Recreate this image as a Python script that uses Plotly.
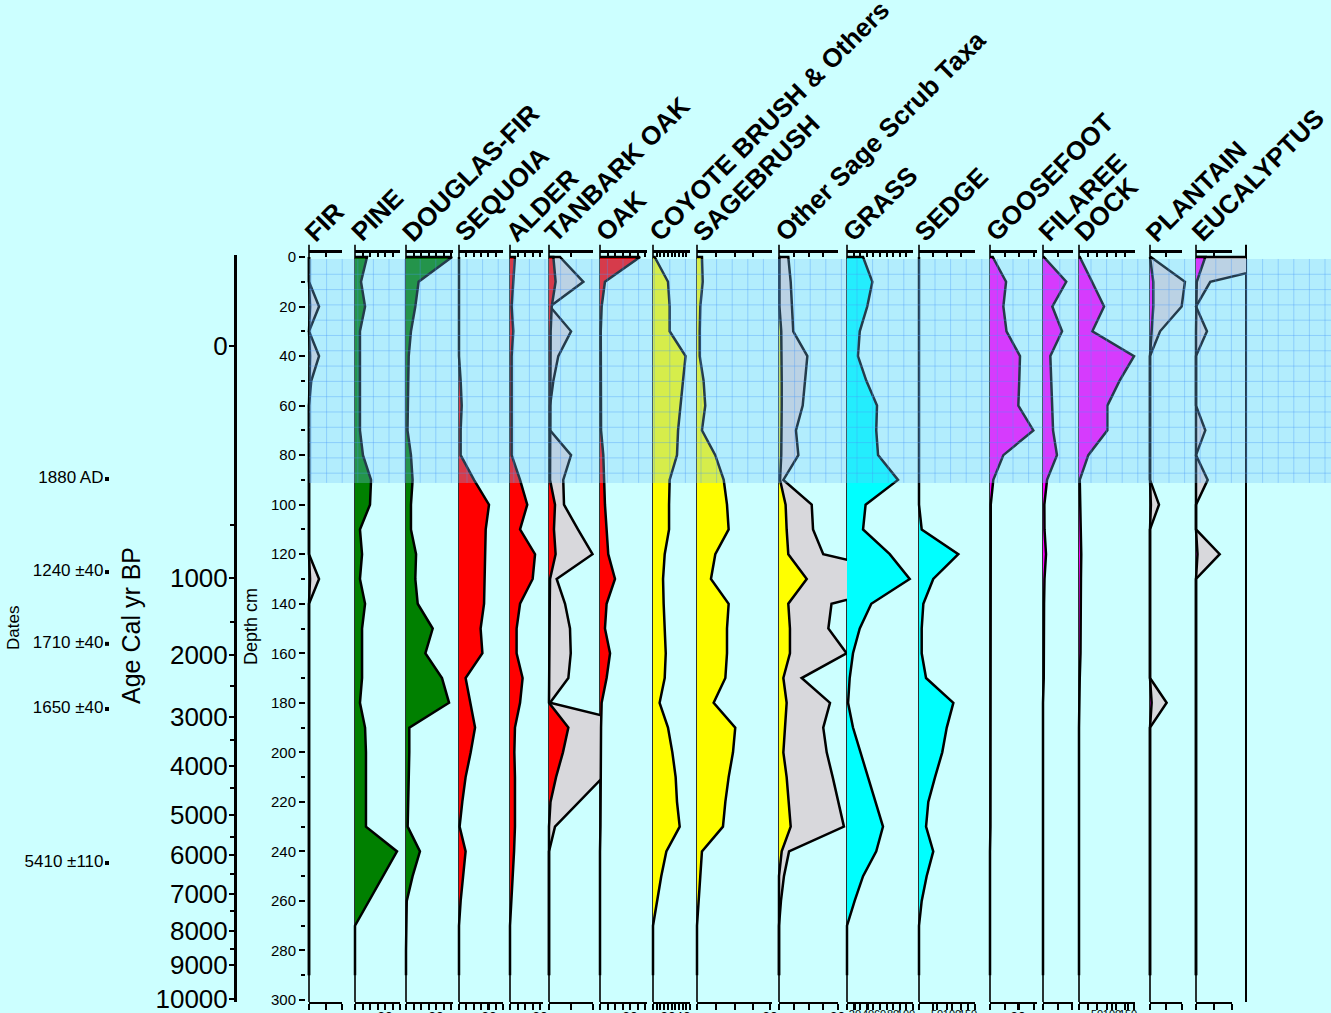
import plotly.graph_objects as go

# ---------------- data ----------------
depths = list(range(0, 300, 10))  # sample depths, cm

taxa = ["FIR", "PINE", "DOUGLAS-FIR", "SEQUOIA", "ALDER", "TANBARK OAK", "OAK",
        "COYOTE BRUSH & Others", "SAGEBRUSH", "Other Sage Scrub Taxa", "GRASS",
        "SEDGE", "GOOSEFOOT", "FILAREE", "DOCK", "PLANTAIN", "EUCALYPTUS"]

fir = [0, 0, 0.7, 0, 0.7, 0.2, 0, 0, 0, 0, 0, 0, 0, 0.7, 0, 0, 0, 0, 0, 0, 0, 0, 0, 0, 0, 0, 0, 0, 0, 0]
fir_x = [0, 0, 6.7, 0, 6.7, 1.5, 0, 0, 0, 0, 0, 0, 0, 6.7, 0, 0, 0, 0, 0, 0, 0, 0, 0, 0, 0, 0, 0, 0, 0, 0]
pine = [8, 4, 6.7, 3.3, 3.3, 3.3, 3.3, 3.3, 5.3, 10.7, 10, 3.3, 4.7, 3.3, 6.7, 4.7, 4.7, 4.7, 3.3, 6.7,
        7.3, 7.3, 7.3, 7.3, 28, 18.7, 9.3, 0, 0, 0]
douglas = [30.7, 8.4, 6.2, 3.3, 1.8, 1.5, 1.5, 1, 3.3, 4.4, 3.3, 3.3, 6.7, 6.2, 7.8, 17.8, 12.9, 24, 28.7, 2.2,
           2.2, 1.8, 1.8, 1.1, 9.3, 4.4, 0.5, 0, 0, 0]
sequoia = [0, 0, 0, 0, 0, 1.1, 1.8, 1.1, 1.1, 10, 20, 17.8, 17.3, 17.3, 16.7, 14.4, 15.6, 4.4, 7.8, 10.7,
           7.8, 4.4, 2.2, 0.4, 4.4, 2.7, 1.1, 0, 0, 0]
alder = [3.3, 2.2, 1.1, 2.2, 1.1, 1.1, 1.1, 1.1, 1.1, 6.7, 11.5, 6.7, 16.7, 15.1, 6.7, 4.4, 4.4, 8.4, 6.7, 3.3,
         2.9, 3.3, 3.3, 3.3, 2.7, 1.8, 0.9, 0, 0, 0]
tanbark = [2.9, 4.4, 1.8, 1.1, 1.1, 0.7, 0.7, 0.7, 0.7, 0.7, 4, 3.3, 4.4, 0.7, 0.5, 0.5, 0.5, 0.5, 0, 12.9,
           9.3, 4.7, 1, 0, 0, 0, 0, 0, 0, 0]
tanbark_x = [7.3, 22.9, 0.7, 14.7, 6.2, 2.9, 0.7, 0.7, 14.7, 9.5, 10, 19.3, 29, 5.1, 10.7, 14, 14.5, 12.9, 0.7, 68,
             80, 36, 20, 4, 0, 0, 0, 0, 0, 0]
oak = [26.7, 3.3, 1.1, 0.5, 0.5, 0.5, 0.5, 0.7, 2.2, 2.7, 3.3, 4.4, 5.5, 10, 4.4, 3.3, 6.7, 4.4, 1.1, 0.7,
       0.7, 0.7, 0.5, 0.3, 0, 0, 0, 0, 0, 0]
coyote = [1.1, 10, 11.1, 11.1, 21.7, 20, 18.2, 16.7, 16, 11.1, 10.7, 10.7, 7.8, 6.7, 7.1, 7.8, 8.5, 7.8, 4.4, 10,
          12.9, 15.1, 16, 17.8, 8.9, 5.5, 2.9, 0, 0, 0]
sagebrush = [3.3, 3.8, 2.2, 1.8, 1.8, 4.4, 5.5, 3.3, 12.2, 17.8, 20, 21.1, 12.2, 9.3, 21.1, 20, 20, 18.9, 11.1, 25.5,
             24, 21.1, 18.9, 17.3, 3.3, 2.2, 1.1, 0, 0, 0]
other_sage = [0.3, 0.3, 0.3, 1.5, 1.8, 1.8, 1.8, 1.8, 1.5, 0.7, 4.4, 5.1, 6.2, 18.5, 6.2, 7.3, 7.3, 2.9, 5.1, 4,
              2.9, 5.1, 6.2, 7.8, 1.8, 0, 0, 0, 0, 0]
other_sage_x = [6.2, 7.8, 8.9, 9.5, 18.9, 17.3, 15.8, 11.3, 12.9, 2.9, 21.8, 22.7, 29.5, 100, 35, 32.9, 45, 15.1, 34, 29.5,
                31.8, 35.8, 39.5, 43.3, 6.7, 3.3, 1.3, 0, 0, 0]
grass = [10.7, 16.9, 13.5, 8.5, 7.3, 12.9, 20, 19.5, 20.7, 34, 12.4, 10.7, 28.5, 41.8, 16.2, 8.5, 4, 1.8, 0.7, 4,
         9, 14, 19.5, 24, 19.5, 10.7, 5.1, 0, 0, 0]
sedge = [0, 0, 0, 0, 0, 0, 0, 0, 0, 0, 0, 1.8, 26.2, 9.5, 2.9, 1.8, 1.8, 4.7, 22.9, 18.5,
         15.5, 10.7, 6.2, 4.7, 9.5, 5.1, 1.8, 0, 0, 0]
goosefoot = [1.8, 10.7, 8.9, 11, 20, 19.5, 18.9, 28.9, 8.9, 2.2, 0.5, 0.5, 0.5, 0.5, 0.5, 0.5, 0.5, 0.5, 0.7, 0.7,
             0.7, 0.5, 0.5, 0.3, 0, 0, 0, 0, 0, 0]
filaree = [0.5, 15.5, 6.2, 12.7, 4.9, 5.5, 6.2, 6.7, 9.3, 2.7, 0.9, 1, 2, 1, 0.7, 0.7, 0.7, 0.5, 0, 0,
           0, 0, 0, 0, 0, 0, 0, 0, 0, 0]
dock = [0.5, 8.7, 16.7, 8.9, 36.7, 27, 18.9, 18.9, 6.2, 0.5, 1, 1.3, 1.5, 1.3, 1.3, 1, 1, 0.5, 0, 0,
        0, 0, 0, 0, 0, 0, 0, 0, 0, 0]
plantain = [0, 2.2, 2.2, 1.1, 0, 0, 0, 0, 0, 0, 0.6, 0, 0, 0, 0, 0, 0, 0, 1.1, 0,
            0, 0, 0, 0, 0, 0, 0, 0, 0, 0]
plantain_x = [0.5, 23.3, 21.1, 6.7, 0, 0, 0, 0, 0, 0, 6, 0, 0, 0, 0, 0, 0, 0, 11.1, 0,
              0, 0, 0, 0, 0, 0, 0, 0, 0, 0]
eucalyptus = [6.2, 0.5, 0, 0, 0, 0, 0, 0, 0, 0, 0, 0, 1, 0, 0, 0, 0, 0, 0, 0,
              0, 0, 0, 0, 0, 0, 0, 0, 0, 0]
eucalyptus_x = [79, 9.5, 0, 7.3, 0, 0, 0, 6.2, 0, 7.8, 0, 0, 15.8, 0, 0, 0, 0, 0, 0, 0,
                0, 0, 0, 0, 0, 0, 0, 0, 0, 0]

series = [fir, pine, douglas, sequoia, alder, tanbark, oak, coyote, sagebrush, other_sage,
          grass, sedge, goosefoot, filaree, dock, plantain, eucalyptus]
exaggerated = {0: fir_x, 5: tanbark_x, 9: other_sage_x, 15: plantain_x, 16: eucalyptus_x}

# bottom-axis tick labels (value %, text) as printed
bottom_labels = {1: ([20], ["20"]), 2: ([20], ["20"]), 3: ([20], ["20"]), 4: ([20], ["20"]),
                 6: ([20], ["20"]), 7: ([10, 20], ["20", "40"]), 8: ([48.7], ["20"]), 9: ([39], ["20"]),
                 10: ([5.3, 14, 22, 30.7, 39.3], ["20", "40", "60", "80", "100"]),
                 11: ([12, 22, 32.7], ["50", "100", "150"]), 12: ([18.7], ["20"]),
                 14: ([12, 22, 32.7], ["50", "100", "150"])}

# Age model: age labels and the depth (cm) at which they fall
age_labels = ["0", "1000", "2000", "3000", "4000", "5000", "6000", "7000", "8000", "9000", "10000"]
age_depths = [35.9, 129.6, 160.7, 185.7, 205.5, 225.3, 241.4, 257.2, 272.1, 285.8, 299.6]
age_minor_depths = [108.2, 147.4, 173.2, 195.0, 214.4, 234.2, 249.1, 264.0, 279.4]

date_labels = ["1880 AD", "1240 \u00b140", "1710 \u00b140", "1650 \u00b140", "5410 \u00b1110"]
date_depths = [89.6, 127.2, 156.2, 182.5, 244.7]

zone_depths = [0.8, 91.2]

# ---------------- layout constants ----------------
W, H = 1331, 1013
PXCM = 2.4767
PXPCT = 1.5
lefts = [309, 355, 406, 459, 510, 549, 600, 653, 697, 779, 847, 919, 990, 1043, 1079, 1150, 1196]
rights = lefts[1:] + [1246]
axis_w = [33, 45, 47, 44, 33, 44, 47, 37, 75, 59, 66, 56, 47, 30, 56, 32, 36]
tick_px = [16.5, 7.5, 7.5, 7.3, 7.6, 22, 7.5, 3.7, 18.8, 14.8, 6.6, 14, 14.5, 14.7, 9.2, 16, 18]
colors = ["#000000", "#008000", "#008000", "#FF0000", "#FF0000", "#FF0000", "#FF0000",
          "#FFFF00", "#FFFF00", "#FFFF00", "#00FFFF", "#00FFFF", "#FF00FF", "#FF00FF",
          "#FF00FF", "#FF00FF", "#FF00FF"]
GREY = "#D8D8DC"
FONT = "Arial, Liberation Sans, sans-serif"

y_top_px, y_bot_px = 253, 1002
ydom = [1 - y_bot_px / H, 1 - y_top_px / H]
yrange = [(y_bot_px - 257) / PXCM, (y_top_px - 257) / PXCM]

fig = go.Figure()
layout = {}
n = len(taxa)


def axname(i):
    return "x" if i == 1 else f"x{i}"


def layname(i):
    return "xaxis" if i == 1 else f"xaxis{i}"


def poly(vals):
    xs = [0] + list(vals) + [0]
    ys = [depths[0]] + list(depths) + [depths[-1]]
    return xs, ys


for k in range(n):
    i = k + 1
    L, R = lefts[k], rights[k]
    layout[layname(i)] = dict(domain=[(L - 3) / W, R / W], range=[-3 / PXPCT, (R - L) / PXPCT],
                              anchor="y", visible=False, fixedrange=True, automargin=False)
    if k in exaggerated:
        xs, ys = poly(exaggerated[k])
        fig.add_trace(go.Scatter(x=xs, y=ys, xaxis=axname(i), yaxis="y", mode="lines",
                                 fill="toself", fillcolor=GREY,
                                 line=dict(color="black", width=2.5), hoverinfo="skip"))
    xs, ys = poly(series[k])
    fig.add_trace(go.Scatter(x=xs, y=ys, xaxis=axname(i), yaxis="y", mode="lines",
                             fill="toself", fillcolor=colors[k],
                             line=dict(color="black", width=2.5), hoverinfo="skip"))

# display axes: top (ticks inside) and bottom (ticks outside)
for k in range(n):
    L = lefts[k]
    rng = [0, axis_w[k] / PXPCT]
    dt = tick_px[k] / PXPCT
    it = n + 1 + k
    ib = 2 * n + 1 + k
    layout[layname(it)] = dict(domain=[L / W, (L + axis_w[k]) / W], range=rng, anchor="y", side="top",
                               showline=True, linecolor="black", linewidth=2.5, ticks="inside",
                               ticklen=4, tickwidth=2, tickcolor="black", tickmode="linear",
                               tick0=0, dtick=dt, showticklabels=False, showgrid=False,
                               zeroline=False, fixedrange=True, automargin=False)
    bl = bottom_labels.get(k, ([], []))
    layout[layname(ib)] = dict(domain=[L / W, (L + axis_w[k]) / W], range=rng, anchor="y", side="bottom",
                               showline=True, linecolor="black", linewidth=2, ticks="outside",
                               ticklen=6, tickwidth=2, tickcolor="black", tickmode="array",
                               tickvals=bl[0], ticktext=bl[1], showticklabels=True, tickangle=0,
                               ticklabelstandoff=-5,
                               tickfont=dict(family=FONT, size=11 if len(bl[0]) > 2 else 14,
                                             color="black"),
                               minor=dict(ticks="outside", ticklen=6, tickwidth=2, tickcolor="black",
                                          tickmode="linear", tick0=0, dtick=dt, showgrid=False),
                               showgrid=False, zeroline=False, fixedrange=True, automargin=False)
    for j in (it, ib):
        fig.add_trace(go.Scatter(x=[None], y=[None], xaxis=axname(j), yaxis="y",
                                 mode="markers", hoverinfo="skip"))

# depth axis
layout["yaxis"] = dict(domain=ydom, range=yrange, anchor="x", side="left", showline=False,
                       ticks="outside", ticklen=6, tickwidth=2, tickcolor="black",
                       tickmode="array", tickvals=list(range(0, 301, 20)),
                       ticktext=[str(v) for v in range(0, 301, 20)],
                       tickfont=dict(family=FONT, size=15, color="black"),
                       minor=dict(ticks="outside", ticklen=4, tickwidth=2, tickcolor="black",
                                  tickmode="linear", tick0=0, dtick=10, showgrid=False),
                       showgrid=False, zeroline=False, fixedrange=True, automargin=False)

# age axis + dates
age_top_px, age_bot_px = 255, 1001.5
layout["yaxis2"] = dict(domain=[1 - age_bot_px / H, 1 - age_top_px / H],
                        range=[(age_bot_px - 257) / PXCM, (age_top_px - 257) / PXCM],
                        anchor="free", position=235 / W, side="left", showline=True,
                        linecolor="black", linewidth=3, ticks="outside", ticklen=5, tickwidth=2,
                        tickcolor="black", tickmode="array", tickvals=age_depths, ticktext=age_labels,
                        tickfont=dict(family=FONT, size=26, color="black"), ticklabelstandoff=-4,
                        ticklabeloverflow="allow",
                        minor=dict(ticks="outside", ticklen=4, tickwidth=2, tickcolor="black",
                                   tickmode="array", tickvals=age_minor_depths, showgrid=False),
                        showgrid=False, zeroline=False, fixedrange=True, automargin=False)
ND = 3 * n + 1
layout[layname(ND)] = dict(domain=[0, 235 / W], range=[0, 235], anchor="y2", visible=False,
                           fixedrange=True, automargin=False)
fig.add_trace(go.Scatter(x=[107] * len(date_depths), y=date_depths, xaxis=axname(ND), yaxis="y2",
                         mode="markers+text", text=date_labels, textposition="middle left",
                         textfont=dict(family=FONT, size=17, color="black"),
                         marker=dict(symbol="square", size=4, color="black"), hoverinfo="skip"))

shapes = []
# thin panel lines
for k in range(n):
    shapes.append(dict(type="line", xref=axname(k + 1), yref="y domain", x0=0, x1=0, y0=0, y1=1.011,
                       line=dict(color="black", width=1.6), layer="below"))
shapes.append(dict(type="line", xref="paper", yref="y domain", x0=1246 / W, x1=1246 / W, y0=0, y1=1.011,
                   line=dict(color="black", width=2), layer="below"))
# shaded zone with grid
zx0 = 309 / W
shapes.append(dict(type="rect", xref="paper", yref="y", x0=zx0, x1=1, y0=zone_depths[0], y1=zone_depths[1],
                   fillcolor="rgba(120,195,250,0.30)", line=dict(width=0), layer="above"))
gx = 311.0
while gx < W:
    shapes.append(dict(type="line", xref="paper", yref="y", x0=gx / W, x1=gx / W,
                       y0=zone_depths[0], y1=zone_depths[1],
                       line=dict(color="rgba(70,150,250,0.35)", width=1), layer="above"))
    gx += 15.6
gy = zone_depths[0] + 15.3 / PXCM
while gy < zone_depths[1]:
    shapes.append(dict(type="line", xref="paper", yref="y", x0=zx0, x1=1, y0=gy, y1=gy,
                       line=dict(color="rgba(70,150,250,0.35)", width=1), layer="above"))
    gy += 15.3 / PXCM

annotations = []
for k in range(n):
    annotations.append(dict(text=taxa[k], xref="paper", yref="paper", x=(lefts[k] - 13) / W,
                            y=1 - 250 / H, xanchor="left", yanchor="bottom", textangle=-45,
                            showarrow=False,
                            font=dict(family=FONT, size=26, color="black", weight="bold")))
annotations.append(dict(text="Age Cal yr BP", xref="paper", yref="paper", x=131 / W, y=1 - 626 / H,
                        xanchor="center", yanchor="middle",
                        textangle=-90, showarrow=False, font=dict(family=FONT, size=25, color="black")))
annotations.append(dict(text="Dates", xref="paper", yref="paper", x=13 / W, y=1 - 628 / H,
                        xanchor="center", yanchor="middle",
                        textangle=-90, showarrow=False, font=dict(family=FONT, size=17, color="black")))
annotations.append(dict(text="Depth cm", xref="paper", yref="paper", x=251 / W, y=1 - 627 / H,
                        xanchor="center", yanchor="middle",
                        textangle=-90, showarrow=False, font=dict(family=FONT, size=18, color="black")))

fig.update_layout(**layout)
fig.update_layout(width=W, height=H, margin=dict(l=0, r=0, t=0, b=0, autoexpand=False), autosize=False,
                  paper_bgcolor="#CCFFFF", plot_bgcolor="rgba(0,0,0,0)", showlegend=False,
                  shapes=shapes, annotations=annotations)

page_css = ("var s=document.createElement('style');"
            "s.innerHTML='html,body{margin:0;padding:0;overflow:hidden;height:1013px;}"
            "body>div{height:1013px;overflow:hidden;font-size:0;line-height:0;}';"
            "document.head.appendChild(s);")
fig.write_html("out.html", config={"displayModeBar": False}, post_script=page_css)
